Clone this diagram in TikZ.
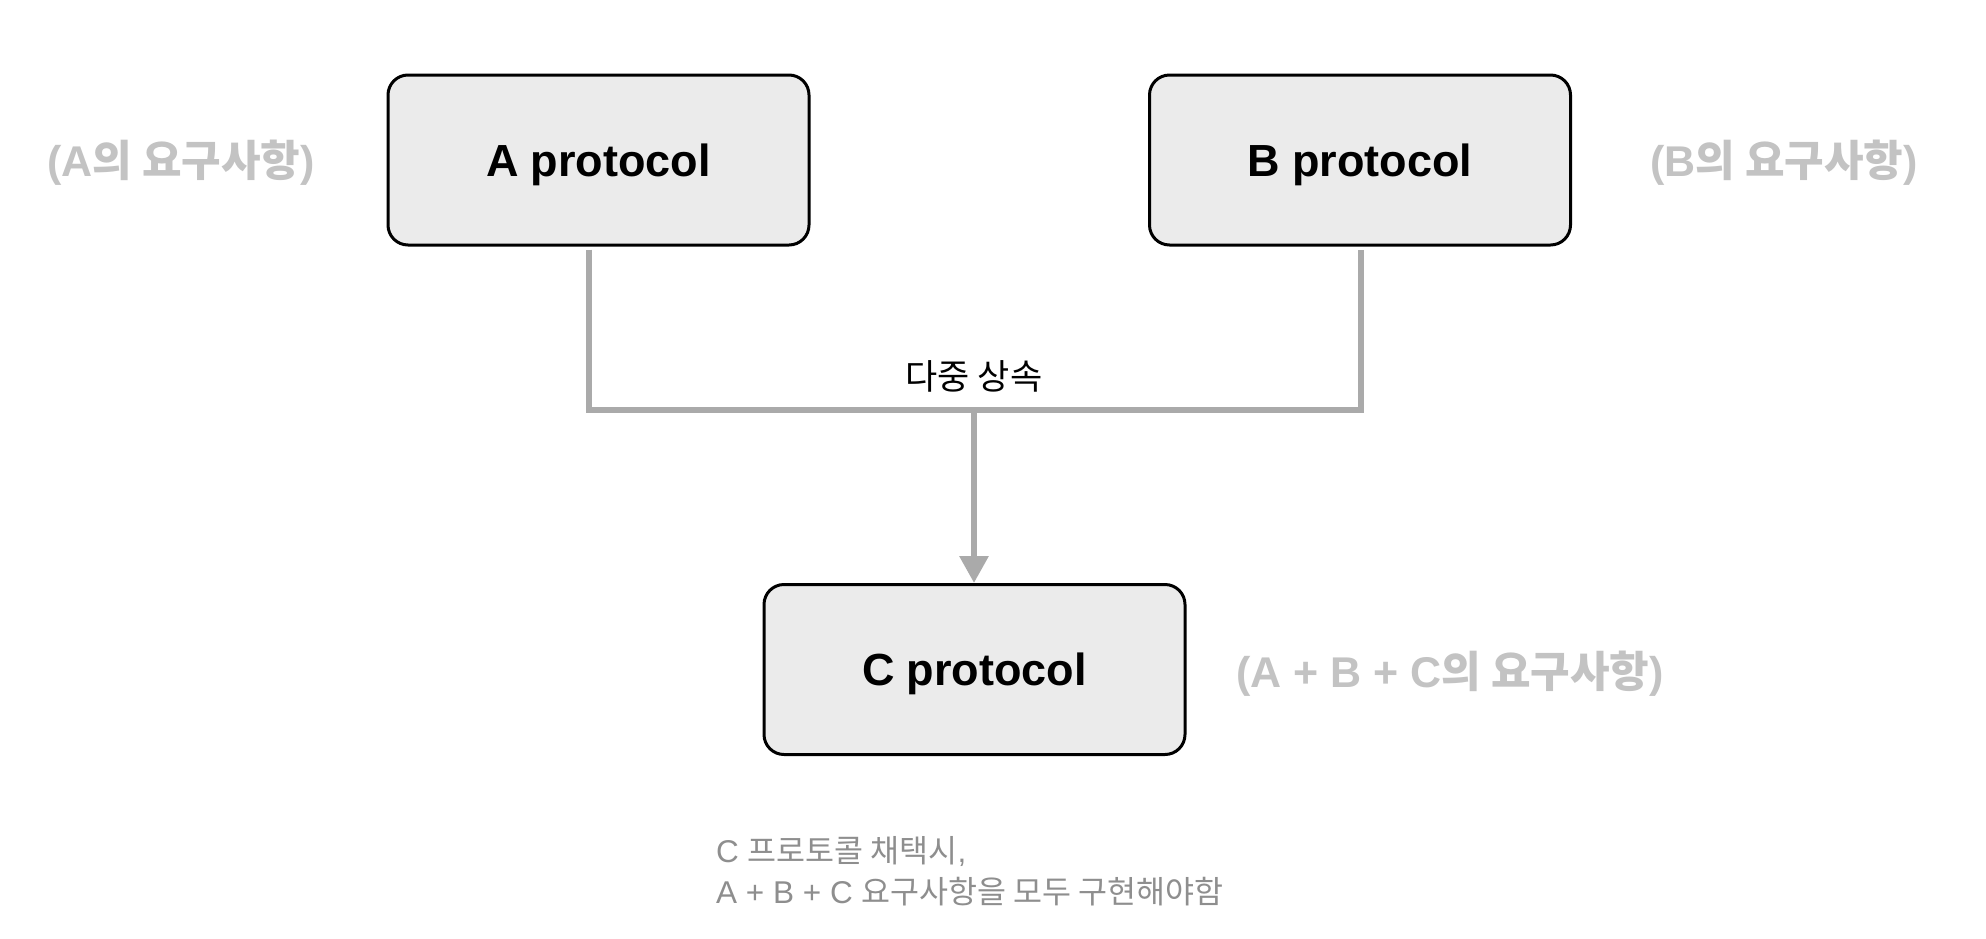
\documentclass[tikz,border=0pt]{standalone}
\usepackage{fontspec}
\setmainfont{Liberation Sans}
\newfontfamily\kr{Noto Sans CJK KR}
\usetikzlibrary{arrows.meta}
\definecolor{boxfill}{HTML}{EBEBEB}
\definecolor{linegray}{HTML}{AAAAAA}
\definecolor{notegray}{HTML}{C3C3C3}
\definecolor{textgray}{HTML}{8E8E8E}
\begin{document}
\begin{tikzpicture}[x=1pt,y=-1pt,
  proto/.style={draw=black, line width=3pt, fill=boxfill, rounded corners=20pt,
    minimum width=421pt, minimum height=170pt, inner sep=0pt,
    text height=32pt, text depth=0pt,
    font=\fontsize{45}{52}\selectfont\bfseries},
  note/.style={text=notegray, inner sep=0pt, font=\fontsize{43}{50}\selectfont\bfseries},
  caption/.style={text=textgray, inner sep=0pt, anchor=base west, font=\fontsize{31.5}{38}\selectfont},
  link/.style={draw=linegray, line width=6pt, line join=miter}]
\useasboundingbox (0,0) rectangle (1986,938);
\fill[white] (0,0) rectangle (1986,938);

\node[proto] (A) at (598.5,160) {A protocol};
\node[proto] (B) at (1360,160) {B protocol};
\node[proto] (C) at (974.5,669.5) {C protocol};

\node[note] (na) at (181,163) {(A{\kr 의 요구사항})};
\node[note] (nb) at (1784,163) {(B{\kr 의 요구사항})};
\node[note] (nc) at (1450,674) {(A + B + C{\kr 의 요구사항})};

\coordinate (ja) at (589,410);
\coordinate (jb) at (1361,410);
\coordinate (jm) at (974,410);

\draw[link] ([yshift=-3pt]A.south -| ja) -- (ja) -- (jb) -- ([yshift=-3pt]B.south -| jb);
\draw[link, -{Triangle[width=28pt,length=27pt]}] (jm) -- (C.north -| jm);

\node[inner sep=0pt, font=\fontsize{35}{40}\selectfont\kr] (lbl) at (974,376) {다중 상속};

\node[caption] (c1) at (716,862) {C {\kr 프로토콜 채택시},};
\node[caption] (c2) at (716,903) {A + B + C {\kr 요구사항을 모두 구현해야함}};
\end{tikzpicture}
\end{document}
